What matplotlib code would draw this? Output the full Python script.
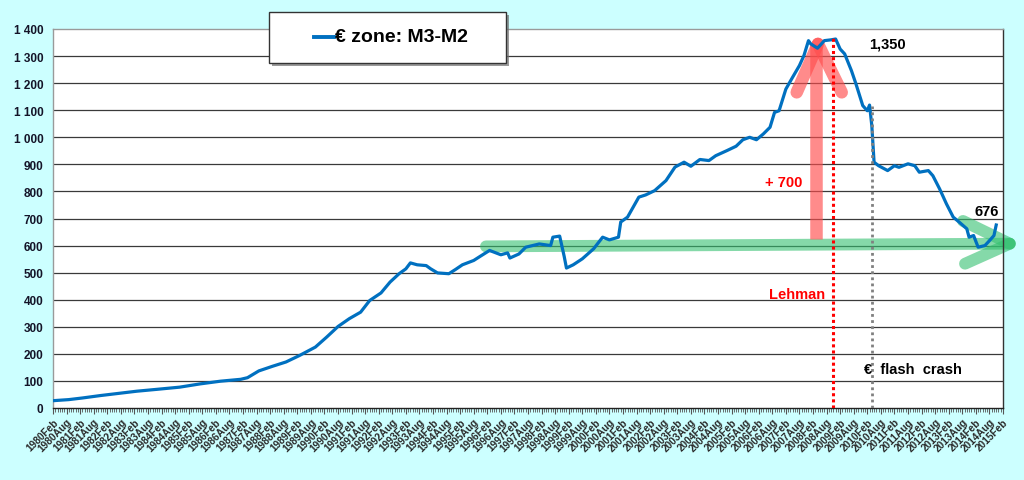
import matplotlib
matplotlib.use("Agg")
import matplotlib.pyplot as plt
from matplotlib.patches import Rectangle
from matplotlib.lines import Line2D
from matplotlib.ticker import FuncFormatter

# === DATOS === #
fechas = [
    "1980-02", "1980-09", "1981-03", "1981-11", "1982-06", "1983-03", "1983-12",
    "1984-10", "1985-07", "1986-04", "1987-01", "1987-04", "1987-09", "1988-03",
    "1988-09", "1989-03", "1989-10", "1990-03", "1990-08", "1991-01", "1991-06",
    "1991-10", "1992-03", "1992-07", "1992-11", "1993-02", "1993-04", "1993-07",
    "1993-11", "1994-01", "1994-04", "1994-09", "1994-12", "1995-03", "1995-08",
    "1995-11", "1996-03", "1996-08", "1996-11", "1996-12", "1997-04", "1997-07",
    "1998-01", "1998-06", "1998-07", "1998-10", "1998-12", "1999-01", "1999-04",
    "1999-08", "2000-01", "2000-05", "2000-08", "2000-12", "2001-01", "2001-04",
    "2001-09", "2001-12", "2002-04", "2002-09", "2003-01", "2003-05", "2003-08",
    "2003-12", "2004-04", "2004-07", "2004-12", "2005-04", "2005-07", "2005-10",
    "2006-01", "2006-04", "2006-07", "2006-09", "2006-11", "2007-02", "2007-05",
    "2007-08", "2007-10", "2007-12", "2008-01", "2008-04", "2008-07", "2008-10",
    "2008-12", "2009-02", "2009-04", "2009-07", "2009-09", "2009-12", "2010-02",
    "2010-03", "2010-04", "2010-05", "2010-07", "2010-11", "2011-02", "2011-04",
    "2011-08", "2011-11", "2012-01", "2012-05", "2012-07", "2012-10", "2013-01",
    "2013-04", "2013-07", "2013-10", "2013-11", "2014-01", "2014-03", "2014-06",
    "2014-08", "2014-10", "2014-11",
]
m3_m2 = [
    27, 31, 37, 46, 53, 62, 69,
    77, 89, 99, 106, 112, 137, 154,
    170, 194, 225, 262, 301, 330, 354,
    397, 425, 465, 496, 514, 536, 529,
    526, 514, 499, 496, 512, 529, 545,
    561, 582, 566, 573, 554, 569, 594,
    606, 600, 631, 635, 560, 517, 529,
    551, 588, 631, 621, 631, 687, 705,
    779, 787, 803, 840, 890, 908, 893,
    918, 914, 932, 951, 967, 991, 1000,
    991, 1012, 1037, 1092, 1098, 1178, 1222,
    1265, 1302, 1357, 1345, 1329, 1357, 1360,
    1363, 1326, 1308, 1246, 1197, 1117, 1098,
    1119, 1043, 908, 895, 877, 895, 889,
    902, 895, 871, 877, 858, 809, 754,
    705, 684, 662, 631, 637, 594, 600,
    618, 637, 676,
]

LEHMAN = "2008-11"
FLASH_CRASH = "2010-04"
INICIO, FIN = "1980-02", "2015-02"


def mes_idx(fecha):
    y, m = fecha.split("-")
    return (int(y) - 1980) * 12 + int(m) - 2


MESES = ["Jan", "Feb", "Mar", "Apr", "May", "Jun",
         "Jul", "Aug", "Sep", "Oct", "Nov", "Dec"]

x = [mes_idx(f) for f in fechas]
x_fin = mes_idx(FIN)
ticks = list(range(0, x_fin + 1, 6))
etiquetas = [f"{1980 + (t + 1) // 12}{MESES[(t + 1) % 12]}" for t in ticks]

# === FIGURA === #
W, H = 1024, 481
fig = plt.figure(figsize=(W / 100, H / 100), dpi=100, facecolor="#CCFFFF")
ax = fig.add_axes([53 / W, 1 - 409 / H, (1003 - 53) / W, (409 - 30) / H])
ax.set_facecolor("white")
ax.set_xlim(0, x_fin)
ax.set_ylim(0, 1400)

# rejilla horizontal
ax.set_yticks(range(0, 1401, 100))
for v in range(100, 1400, 100):
    ax.axhline(v, color="#3a3a3a", lw=0.9, zorder=1)
ax.yaxis.set_major_formatter(FuncFormatter(lambda v, p: f"{v:,.0f}".replace(",", " ")))
ax.tick_params(axis="y", length=0, pad=7, labelsize=8.5, labelcolor="#141428")
for lab in ax.get_yticklabels():
    lab.set_fontweight("bold")
    lab.set_family(["Liberation Sans", "DejaVu Sans"])

ax.set_xticks(ticks)
ax.set_xticklabels(etiquetas, rotation=45, ha="right", rotation_mode="anchor",
                   fontsize=7.3, fontweight="bold", color="#2a2a2a",
                   family=["Liberation Sans", "DejaVu Sans"])
ax.set_xticks(range(0, x_fin + 1), minor=True)
ax.tick_params(axis="x", which="major", length=4, width=0.8, color="#555555", pad=2)
ax.tick_params(axis="x", which="minor", length=3, width=0.6, color="#555555")

for lado, col in [("top", "#9a9a9a"), ("left", "#9a9a9a"), ("right", "#333333"), ("bottom", "#222222")]:
    ax.spines[lado].set_color(col)
    ax.spines[lado].set_linewidth(1.0)

# flechas de anotación (semi-transparentes, debajo de la serie)
verde = dict(color="#34C070", alpha=0.6, lw=8.5, solid_capstyle="round", clip_on=False, zorder=2)
ax.plot([191.4, 423], [597, 607], **verde)
ax.plot([402.3, 423], [691, 607], **verde)
ax.plot([403.2, 423], [533, 607], **verde)

rosa = dict(color="#FF4D4D", alpha=0.65, lw=9, solid_capstyle="round", zorder=2)
ax.plot([337.3, 337.3], [625, 1345], solid_capstyle="butt", color="#FF4D4D", alpha=0.65, lw=9, zorder=2)
ax.plot([328.8, 338.2], [1166, 1345], **rosa)
ax.plot([348.7, 338.2], [1166, 1345], **rosa)

# serie principal
ax.plot(x, m3_m2, color="#0070C0", lw=2.3, zorder=3, solid_joinstyle="round")

# líneas de eventos
ax.plot([mes_idx(LEHMAN)] * 2, [0, 1375], color="#FF0000", lw=2.2,
        linestyle=(0, (1, 1)), zorder=4)
ax.plot([mes_idx(FLASH_CRASH)] * 2, [0, 1117], color="#808080", lw=2.0,
        linestyle=(0, (1, 1.2)), zorder=4)

txt = dict(fontweight="bold", ha="center", va="center",
           family=["Liberation Sans", "DejaVu Sans"], zorder=5)
ax.text(369.1, 1345, "1,350", fontsize=10.5, color="black", **txt)
ax.text(412.9, 728, "676", fontsize=10.5, color="black", **txt)
ax.text(323.2, 835, "+ 700", fontsize=10.5, color="#FF0000", **txt)
ax.text(329, 422, "Lehman", fontsize=10.5, color="#FF0000", **txt)
ax.text(380.2, 145, "€  flash  crash", fontsize=10.5, color="black", **txt)

# leyenda tipo Excel con sombra
bx, by, bw, bh = 269 / W, 1 - 64 / H, 237 / W, 51 / H
fig.patches.append(Rectangle((bx + 3 / W, by - 3 / H), bw, bh, transform=fig.transFigure,
                             facecolor="#6f6f6f", alpha=0.7, edgecolor="none", zorder=5))
fig.patches.append(Rectangle((bx, by), bw, bh, transform=fig.transFigure,
                             facecolor="white", edgecolor="#333333", lw=1.0, zorder=6))
fig.lines.append(Line2D([314 / W, 334 / W], [1 - 38 / H] * 2, transform=fig.transFigure,
                        color="#0070C0", lw=2.8, zorder=7))
fig.text(335 / W, 1 - 38 / H, "€ zone: M3-M2", fontsize=14, fontweight="bold",
         ha="left", va="center", color="black", zorder=8,
         family=["Liberation Sans Narrow", "Liberation Sans", "DejaVu Sans"])

fig.savefig("out.png", dpi=100, facecolor=fig.get_facecolor())
plt.close(fig)
